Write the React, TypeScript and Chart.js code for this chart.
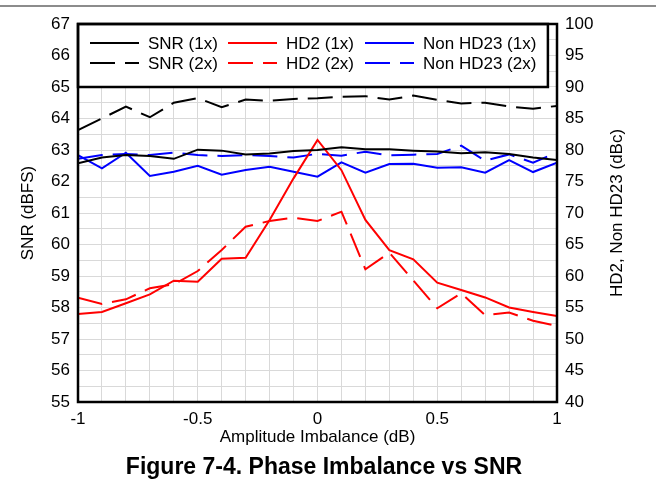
import React, { useEffect, useRef } from 'react';
import { Chart, registerables } from 'chart.js';

Chart.register(...registerables);

const FONT = "'Liberation Sans', Arial, Helvetica, sans-serif";

// Amplitude imbalance (dB)
const xValues = [-1, -0.9, -0.8, -0.7, -0.6, -0.5, -0.4, -0.3, -0.2, -0.1, 0, 0.1, 0.2, 0.3, 0.4, 0.5, 0.6, 0.7, 0.8, 0.9, 1];

// SNR (dBFS), left axis
const snr1x = [62.58, 62.76, 62.84, 62.81, 62.72, 63.01, 62.98, 62.86, 62.89, 62.97, 63.0, 63.09, 63.02, 63.02, 62.98, 62.95, 62.9, 62.93, 62.87, 62.76, 62.68];
const snr2x = [63.63, 64.0, 64.38, 64.04, 64.5, 64.65, 64.36, 64.6, 64.56, 64.62, 64.64, 64.69, 64.71, 64.6, 64.73, 64.59, 64.48, 64.5, 64.38, 64.31, 64.4];

// HD2 / Non HD23 (dBc), right axis
const hd21x = [53.97, 54.29, 55.67, 57.09, 59.25, 59.1, 62.75, 62.91, 68.9, 75.5, 81.6, 76.8, 68.9, 64.1, 62.65, 58.94, 57.78, 56.6, 55.0, 54.29, 53.65];
const hd22x = [56.56, 55.56, 56.3, 58.05, 58.68, 60.79, 64.13, 67.83, 68.73, 69.25, 68.73, 70.21, 61.06, 63.7, 59.3, 54.87, 57.25, 53.8, 54.2, 52.9, 52.06];
const nonHd231x = [79.2, 77.1, 79.57, 75.87, 76.56, 77.5, 76.08, 76.83, 77.35, 76.56, 75.77, 78.04, 76.4, 77.78, 77.83, 77.2, 77.25, 76.4, 78.41, 76.5, 77.99];
const nonHd232x = [78.6, 79.21, 79.37, 79.21, 79.57, 79.2, 79.05, 79.2, 79.05, 78.8, 79.4, 79.1, 79.73, 79.15, 79.26, 79.37, 80.69, 78.3, 79.3, 77.99, 79.63];

// Axis ranges / ticks
const snrMin = 55;
const snrMax = 67;
const snrGridStep = 0.5;
const dbcMin = 40;
const dbcMax = 100;
const dbcStep = 5;
const xGridStep = 0.1;
const legendBottomSnr = 65;

const DASH = [25, 10];

const framePlugin = {
  id: 'frame',
  afterDatasetsDraw(chart: any) {
    const { ctx, chartArea } = chart;
    const { left, top, right, bottom } = chartArea;
    const yScale = chart.scales.y;
    const legBottom = yScale.getPixelForValue(legendBottomSnr);
    const legRight = left + (right - left) * 0.981;
    ctx.save();
    // legend box
    ctx.fillStyle = '#ffffff';
    ctx.fillRect(left, top, legRight - left, legBottom - top);
    ctx.lineWidth = 2.5;
    ctx.strokeStyle = '#000';
    ctx.setLineDash([]);
    ctx.strokeRect(left, top, legRight - left, legBottom - top);
    // legend items in 3 columns x 2 rows
    const ds = chart.data.datasets;
    const colX = [left + 12, left + 150, left + 287];
    const rowY = [top + 19, top + 39];
    ctx.font = `17px ${FONT}`;
    ctx.textBaseline = 'middle';
    ctx.textAlign = 'left';
    const order = [0, 2, 4, 1, 3, 5];
    order.forEach((di, k) => {
      const d = ds[di];
      const col = k % 3;
      const row = Math.floor(k / 3);
      const x0 = colX[col];
      const y0 = rowY[row];
      ctx.beginPath();
      ctx.lineWidth = 2;
      ctx.strokeStyle = d.borderColor;
      ctx.setLineDash(d.borderDash || []);
      ctx.moveTo(x0, y0);
      ctx.lineTo(x0 + 49, y0);
      ctx.stroke();
      ctx.setLineDash([]);
      ctx.fillStyle = '#000';
      ctx.fillText(d.label, x0 + 58, y0 + 1);
    });
    // plot frame
    ctx.lineWidth = 2.5;
    ctx.strokeStyle = '#000';
    ctx.strokeRect(left, top, right - left, bottom - top);
    // right axis title (reads bottom-to-top)
    ctx.translate(right + 60, (top + bottom) / 2);
    ctx.rotate(-Math.PI / 2);
    ctx.textAlign = 'center';
    ctx.textBaseline = 'middle';
    ctx.fillStyle = '#000';
    ctx.font = `17px ${FONT}`;
    ctx.fillText('HD2, Non HD23 (dBc)', 0, 0);
    ctx.restore();
  },
};

export default function App() {
  const ref = useRef<HTMLCanvasElement>(null);

  useEffect(() => {
    document.body.style.margin = '0';
    const canvas = ref.current;
    if (!canvas) return;
    const mk = (ys: number[]) => xValues.map((x, i) => ({ x, y: ys[i] }));
    const chart = new Chart(canvas, {
      type: 'line',
      data: {
        datasets: [
          { label: 'SNR (1x)', data: mk(snr1x), borderColor: '#000000', borderWidth: 2, yAxisID: 'y', borderDash: [] },
          { label: 'SNR (2x)', data: mk(snr2x), borderColor: '#000000', borderWidth: 2, yAxisID: 'y', borderDash: DASH },
          { label: 'HD2 (1x)', data: mk(hd21x), borderColor: '#ff0000', borderWidth: 2, yAxisID: 'y2', borderDash: [] },
          { label: 'HD2 (2x)', data: mk(hd22x), borderColor: '#ff0000', borderWidth: 2, yAxisID: 'y2', borderDash: DASH },
          { label: 'Non HD23 (1x)', data: mk(nonHd231x), borderColor: '#0000ff', borderWidth: 2, yAxisID: 'y2', borderDash: [] },
          { label: 'Non HD23 (2x)', data: mk(nonHd232x), borderColor: '#0000ff', borderWidth: 2, yAxisID: 'y2', borderDash: DASH },
        ] as any,
      },
      options: {
        responsive: false,
        animation: false,
        layout: { padding: { left: 0, right: 0, top: 24, bottom: 0 } },
        plugins: { legend: { display: false }, tooltip: { enabled: false } },
        elements: { point: { radius: 0 }, line: { tension: 0 } },
        scales: {
          x: {
            type: 'linear',
            min: -1,
            max: 1,
            afterFit: (s: any) => { s.height = 93; },
            grid: { color: '#d9d9d9', lineWidth: 1, drawTicks: false },
            border: { display: false },
            ticks: {
              stepSize: xGridStep,
              autoSkip: false,
              maxRotation: 0,
              padding: 7,
              color: '#000',
              font: { family: FONT, size: 17 },
              callback: (v: any) => {
                const n = Number(v);
                if (Math.abs(n * 2 - Math.round(n * 2)) < 1e-6) return String(Math.round(n * 2) / 2);
                return '';
              },
            },
            title: {
              display: true,
              text: 'Amplitude Imbalance (dB)',
              color: '#000',
              font: { family: FONT, size: 17 },
              padding: { top: 0, bottom: 47.8 },
            },
          },
          y: {
            type: 'linear',
            position: 'left',
            min: snrMin,
            max: snrMax,
            afterFit: (s: any) => { s.width = 78; },
            grid: { color: '#d9d9d9', lineWidth: 1, drawTicks: false },
            border: { display: false },
            ticks: {
              stepSize: snrGridStep,
              autoSkip: false,
              padding: 8,
              color: '#000',
              font: { family: FONT, size: 17 },
              callback: (v: any) => {
                const n = Number(v);
                return Math.abs(n - Math.round(n)) < 1e-6 ? String(Math.round(n)) : '';
              },
            },
            title: {
              display: true,
              text: 'SNR (dBFS)',
              color: '#000',
              font: { family: FONT, size: 17 },
              padding: { top: 18.3, bottom: 0 },
            },
          },
          y2: {
            type: 'linear',
            position: 'right',
            min: dbcMin,
            max: dbcMax,
            afterFit: (s: any) => { s.width = 99; },
            grid: { display: false, drawTicks: false },
            border: { display: false },
            ticks: {
              stepSize: dbcStep,
              autoSkip: false,
              padding: 8,
              color: '#000',
              font: { family: FONT, size: 17 },
            },
          },
        },
      } as any,
      plugins: [framePlugin],
    });
    return () => chart.destroy();
  }, []);

  return (
    <div style={{ position: 'relative', width: 656, height: 495, background: '#ffffff', overflow: 'hidden' }}>
      <canvas ref={ref} width={656} height={495} style={{ position: 'absolute', left: 0, top: 0, display: 'block' }} />
      <div style={{ position: 'absolute', left: 0, top: 5, width: 656, height: 2, background: '#8c8c8c' }} />
      <div
        style={{
          position: 'absolute',
          left: 0,
          top: 453,
          width: 648,
          textAlign: 'center',
          font: `bold 23px ${FONT}`,
          color: '#000',
          lineHeight: '26px',
        }}
      >
        Figure 7-4. Phase Imbalance vs SNR
      </div>
    </div>
  );
}
